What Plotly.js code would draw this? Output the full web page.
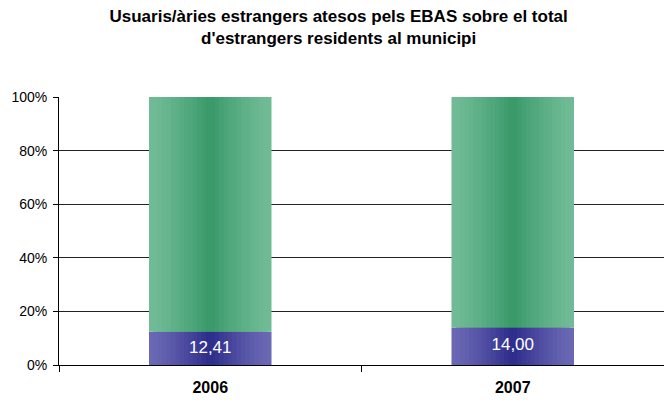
<!DOCTYPE html>
<html>
<head>
<meta charset="utf-8">
<script src="https://cdn.plot.ly/plotly-3.0.1.min.js"></script>
<style>html,body{margin:0;padding:0;background:#fff;}</style>
</head>
<body>
<div id="chart" style="width:664px;height:405px;"></div>
<script>
// Data
const years = ['2006', '2007'];
const usersPct = [12.41, 14.00];          // usuaris/àries estrangers atesos pels EBAS (%)
const userLabels = ['12,41', '14,00'];
const yTickVals = [0, 20, 40, 60, 80, 100];
const yTickText = ['0%', '20%', '40%', '60%', '80%', '100%'];

// Styling helpers (gradient simulated by overlaid bars)
const barWidth = 0.405;
const layers = 14;
function mix(a, b, t) {
  return 'rgb(' + a.map((v, i) => Math.round(v + (b[i] - v) * t)).join(',') + ')';
}
const greenEdge = [112, 187, 150], greenMid = [58, 154, 106];
const purpleEdge = [106, 104, 180], purpleMid = [46, 46, 140];

const restPct = usersPct.map(v => 100 - v);
const traces = [];
for (let k = 0; k < layers; k++) {
  const t = k / (layers - 1);
  const w = barWidth * (1 - k / layers);
  const ease = Math.pow(t, 1.3);
  traces.push({
    type: 'bar', x: years, y: usersPct, base: [0, 0],
    width: years.map(() => w),
    marker: {color: mix(purpleEdge, purpleMid, ease), line: {width: 0}},
    hoverinfo: 'skip', showlegend: false
  });
  traces.push({
    type: 'bar', x: years, y: restPct, base: usersPct,
    width: years.map(() => w),
    marker: {color: mix(greenEdge, greenMid, ease), line: {width: 0}},
    hoverinfo: 'skip', showlegend: false
  });
}
traces.push({
  type: 'scatter', mode: 'text', x: years, y: usersPct.map(v => v / 2),
  text: userLabels, textposition: 'middle center',
  textfont: {family: 'Liberation Sans Narrow, Arial Narrow, Liberation Sans, sans-serif', size: 17, color: '#ffffff'},
  hoverinfo: 'skip', showlegend: false
});

const layout = {
  width: 664, height: 405,
  margin: {l: 59, r: 0, t: 97, b: 40},
  paper_bgcolor: '#ffffff', plot_bgcolor: '#ffffff',
  barmode: 'overlay',
  title: {
    text: '<b>Usuaris/àries estrangers atesos pels EBAS sobre el total<br>d\'estrangers residents al municipi</b>',
    font: {family: 'Liberation Sans Narrow, Arial Narrow, Liberation Sans, sans-serif', size: 17, color: '#000'},
    x: 0.51, xanchor: 'center', y: 0.945, yanchor: 'top'
  },
  xaxis: {
    type: 'category', range: [-0.5, 1.5],
    tickson: 'boundaries', ticks: 'outside', ticklen: 6, tickcolor: '#000',
    ticklabelstandoff: 8,
    showgrid: false, showline: true, linecolor: '#000', linewidth: 1,
    tickfont: {family: 'Liberation Sans Narrow, Arial Narrow, Liberation Sans, sans-serif', size: 16, color: '#000', weight: 'bold'},
    zeroline: false, fixedrange: true
  },
  yaxis: {
    range: [0, 100], tickvals: yTickVals, ticktext: yTickText,
    ticks: 'outside', ticklen: 5, tickcolor: '#000',
    ticklabelstandoff: 3,
    showgrid: true, gridcolor: '#222', gridwidth: 1,
    showline: true, linecolor: '#000', linewidth: 1,
    zeroline: false,
    tickfont: {family: 'Liberation Sans Narrow, Arial Narrow, Liberation Sans, sans-serif', size: 14, color: '#000'},
    fixedrange: true
  },
  font: {family: 'Liberation Sans Narrow, Liberation Sans, sans-serif'}
};

Plotly.newPlot('chart', traces, layout, {displayModeBar: false, staticPlot: true});
</script>
</body>
</html>
